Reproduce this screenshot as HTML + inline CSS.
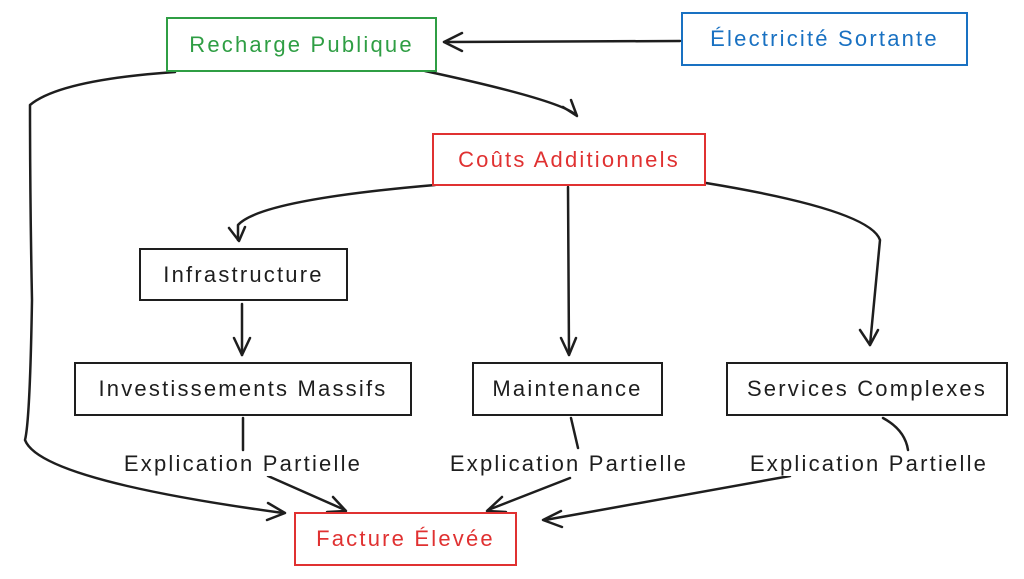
<!DOCTYPE html>
<html><head><meta charset="utf-8"><style>
html,body{margin:0;padding:0;background:#fff;}
body{width:1024px;height:579px;position:relative;overflow:hidden;font-family:"Liberation Sans",sans-serif;}
.b{position:absolute;box-sizing:border-box;border:2px solid #1e1e1e;display:flex;align-items:center;justify-content:center;font-size:22px;letter-spacing:2.2px;color:#1e1e1e;background:#fff;white-space:nowrap;}
.l{position:absolute;font-size:22px;letter-spacing:2.2px;color:#1e1e1e;background:#fff;transform:translateX(-50%);white-space:nowrap;line-height:24px;}
svg{position:absolute;left:0;top:0;}
</style></head><body>
<svg width="1024" height="579" fill="none" stroke="#1e1e1e" stroke-width="2.5" stroke-linecap="round" stroke-linejoin="round">
<path d="M680 41 L444 42"/><path d="M462 33 L444 42 L462 51"/>
<path d="M425 71 Q560 100 576 115"/><path d="M563 107 L577 116 L571 100"/>
<path d="M175 72 Q60 80 30 105 Q30 200 32 300 Q30 420 25 440 Q40 480 283 513"/><path d="M268 503 L285 513 L267 520"/>
<path d="M435 185 Q260 200 238 225 L238 240"/><path d="M229 228 L239 241 L245 227"/>
<path d="M568 187 L569 355"/><path d="M561 338 L569 355 L576 338"/>
<path d="M706 183 Q870 210 880 240 L870 345"/><path d="M860 330 L870 345 L878 330"/>
<path d="M242 304 L242 355"/><path d="M234 338 L242 355 L250 338"/>
<path d="M243 418 L243 450"/><path d="M268 476 L345 510"/><path d="M327 512 L346 511 L333 497"/>
<path d="M571 418 L578 448"/><path d="M570 478 L488 510"/><path d="M502 497 L487 511 L506 512"/>
<path d="M883 418 Q905 430 908 450"/><path d="M790 476 L545 520"/><path d="M561 511 L543 520 L562 527"/>
</svg>
<div class="b" style="left:166px;top:17px;width:271px;height:55px;border-color:#2f9e44;color:#2f9e44">Recharge Publique</div>
<div class="b" style="left:681px;top:12px;width:287px;height:54px;border-color:#1971c2;color:#1971c2">Électricité Sortante</div>
<div class="b" style="left:432px;top:133px;width:274px;height:53px;border-color:#e03131;color:#e03131">Coûts Additionnels</div>
<div class="b" style="left:139px;top:248px;width:209px;height:53px;">Infrastructure</div>
<div class="b" style="left:74px;top:362px;width:338px;height:54px;">Investissements Massifs</div>
<div class="b" style="left:472px;top:362px;width:191px;height:54px;">Maintenance</div>
<div class="b" style="left:726px;top:362px;width:282px;height:54px;">Services Complexes</div>
<div class="b" style="left:294px;top:512px;width:223px;height:54px;border-color:#e03131;color:#e03131">Facture Élevée</div>
<div class="l" style="left:243px;top:452px">Explication Partielle</div>
<div class="l" style="left:569px;top:452px">Explication Partielle</div>
<div class="l" style="left:869px;top:452px">Explication Partielle</div>
</body></html>
